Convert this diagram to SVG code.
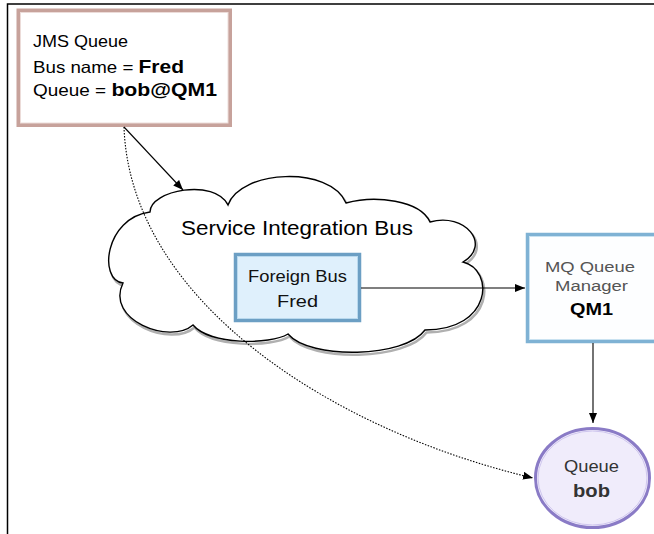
<svg xmlns="http://www.w3.org/2000/svg" width="654" height="534" viewBox="0 0 654 534">
<style>
  text { font-family: "Liberation Sans", Arial, sans-serif; }
  .b { font-weight: bold; }
  .conn { fill: none; stroke: #000; stroke-width: 1.1; }
</style>
<defs>
  <marker id="ah" viewBox="0 0 10 8" refX="10" refY="4" markerWidth="10" markerHeight="8" markerUnits="userSpaceOnUse" orient="auto">
    <path d="M0,0 L10,4 L0,8 Z" fill="#000"/>
  </marker>
  <path id="cloudShape" d="M150,212 C150,190 215,178 228,205 C240,170 330,165 346,203 C375,195 420,200 430,222 C465,212 492,245 463,262 C495,270 492,330 425,330 C405,358 310,360 288,334 C270,345 210,345 193,325 C170,345 105,320 123,283 C98,280 105,218 150,212 Z"/>
</defs>
<rect x="0" y="0" width="654" height="534" fill="#fff"/>
<path d="M7.5,534 L7.5,4 L654,4" fill="none" stroke="#000" stroke-width="1.5"/>

<g id="cloud">
  <use href="#cloudShape" transform="translate(1.5,2.5)" fill="none" stroke="#b0b0b0" stroke-width="2.5"/>
  <use href="#cloudShape" fill="#fff" stroke="#000" stroke-width="1.4"/>
  <text x="297" y="235" font-size="21" text-anchor="middle" textLength="232" lengthAdjust="spacingAndGlyphs">Service Integration Bus</text>
</g>

<g id="jms-queue">
  <rect x="18.5" y="10.5" width="211.5" height="114.5" fill="#fff" stroke="#c7a29b" stroke-width="4"/>
  <rect x="20.5" y="12.5" width="207.5" height="110.5" fill="none" stroke="#ecdcd9" stroke-width="1"/>
  <text x="33" y="47" font-size="16.5" textLength="95" lengthAdjust="spacingAndGlyphs">JMS Queue</text>
  <text x="33" y="72.5" font-size="16.5" textLength="151" lengthAdjust="spacingAndGlyphs">Bus name = <tspan class="b" font-size="18.5">Fred</tspan></text>
  <text x="33" y="96" font-size="16.5" textLength="184" lengthAdjust="spacingAndGlyphs">Queue = <tspan class="b" font-size="18.5">bob@QM1</tspan></text>
</g>

<g id="foreign-bus">
  <rect x="235.5" y="254.5" width="124" height="66" fill="#dff0fc" stroke="#6c9fc4" stroke-width="3.5"/>
  <rect x="237.5" y="256.5" width="120" height="62" fill="none" stroke="#b9d9ee" stroke-width="1"/>
  <text x="297.5" y="282" font-size="16.5" text-anchor="middle" textLength="99" lengthAdjust="spacingAndGlyphs" fill="#111">Foreign Bus</text>
  <text x="297.5" y="307" font-size="16.5" text-anchor="middle" textLength="41" lengthAdjust="spacingAndGlyphs" fill="#111">Fred</text>
</g>

<g id="mq-queue-manager">
  <rect x="527.5" y="234.5" width="132" height="107" fill="#fdfeff" stroke="#7fb2d4" stroke-width="3.5"/>
  <rect x="529.5" y="236.5" width="128" height="103" fill="none" stroke="#c9e2f1" stroke-width="1"/>
  <text x="590" y="272" font-size="15.5" text-anchor="middle" textLength="90" lengthAdjust="spacingAndGlyphs" fill="#555">MQ Queue</text>
  <text x="591.5" y="291" font-size="15.5" text-anchor="middle" textLength="73" lengthAdjust="spacingAndGlyphs" fill="#555">Manager</text>
  <text x="591.5" y="315" font-size="17" class="b" text-anchor="middle" textLength="43" lengthAdjust="spacingAndGlyphs" fill="#000">QM1</text>
</g>

<g id="queue-bob">
  <ellipse cx="592.5" cy="478" rx="57" ry="49.5" fill="#f0ecfb" stroke="#8a7bc6" stroke-width="3"/>
  <ellipse cx="592.5" cy="478" rx="54.5" ry="47" fill="none" stroke="#cfc6ee" stroke-width="1"/>
  <text x="591.5" y="472" font-size="16" text-anchor="middle" textLength="55" lengthAdjust="spacingAndGlyphs" fill="#333">Queue</text>
  <text x="591.5" y="497" font-size="18" class="b" text-anchor="middle" textLength="37" lengthAdjust="spacingAndGlyphs" fill="#333">bob</text>
</g>

<g id="connectors">
  <path class="conn" d="M124,127 L183,190" marker-end="url(#ah)"/>
  <path class="conn" d="M124,127 C130,300 330,430 533,478" stroke-dasharray="1.5,1.5" stroke-width="1" marker-end="url(#ah)"/>
  <path class="conn" d="M361,288 L525,288" marker-end="url(#ah)"/>
  <path class="conn" d="M593,343 L593,423" stroke="#444" marker-end="url(#ah)"/>
</g>
</svg>
